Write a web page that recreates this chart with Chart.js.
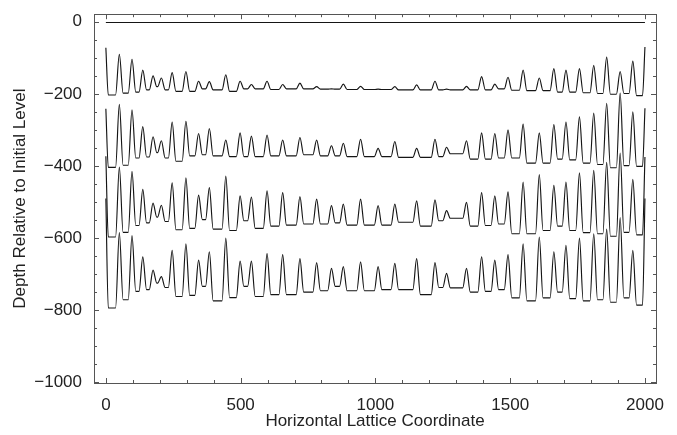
<!DOCTYPE html>
<html>
<head>
<meta charset="utf-8">
<script src="https://cdn.jsdelivr.net/npm/chart.js@4.4.1/dist/chart.umd.min.js"></script>
<style>
html,body{margin:0;padding:0;background:#fff;}
#wrap{width:677px;height:435px;position:relative;}
</style>
</head>
<body>
<div id="wrap"><canvas id="c" width="677" height="435"></canvas></div>
<script>
// ---- data ----
const peakX = [50, 97, 137, 175, 206, 246, 297, 344, 384, 445, 498, 540, 598, 656, 720, 782, 837, 881, 945, 1010, 1072, 1153, 1221, 1264, 1338, 1394, 1443, 1492, 1548, 1608, 1662, 1707, 1757, 1810, 1858, 1908, 1955];

const s0X = [0, 2000];
const s0Y = [-2, -2];

const s1Ends = [-72, -70];
const s1Peaks = [-90, -104, -134, -150, -156, -141, -138, -165, -166, -147, -165, -174, -165, -174, -170, -180, -186, -173, -179, -187, -180, -175, -165, -187, -179, -152, -173, -154, -134, -156, -130, -134, -130, -121, -98, -138, -109];
const s1Valleys = [-203, -198, -195, -189, -180, -189, -193, -193, -186, -189, -193, -186, -186, -188, -186, -186, -187, -187, -188, -188, -188, -189, -189, -189, -189, -189, -189, -186, -190, -191, -191, -195, -195, -197, -199, -201, -199, -205];

const s2Ends = [-241, -240];
const s2Peaks = [-229, -244, -291, -319, -330, -278, -276, -310, -296, -328, -308, -317, -314, -328, -321, -328, -344, -337, -326, -351, -332, -351, -326, -348, -330, -308, -310, -300, -284, -308, -285, -278, -264, -253, -226, -198, -250];
const s2Valleys = [-404, -398, -378, -375, -363, -378, -387, -372, -369, -372, -374, -374, -374, -372, -372, -369, -372, -372, -374, -374, -374, -376, -376, -374, -366, -381, -381, -378, -378, -392, -392, -381, -383, -392, -396, -405, -399, -401];

const s3Ends = [-373, -375];
const s3Peaks = [-403, -415, -465, -503, -509, -447, -433, -481, -460, -428, -483, -486, -469, -474, -485, -492, -510, -506, -492, -510, -506, -497, -494, -524, -501, -474, -483, -472, -445, -424, -454, -445, -419, -412, -390, -364, -437];
const s3Valleys = [-597, -584, -565, -558, -542, -554, -577, -573, -549, -575, -579, -552, -573, -567, -564, -561, -561, -558, -564, -564, -564, -556, -567, -552, -545, -567, -565, -561, -588, -588, -579, -567, -579, -585, -588, -595, -584, -591];

const s4Ends = [-490, -490];
const s4Peaks = [-585, -593, -652, -689, -707, -634, -616, -661, -638, -600, -664, -664, -643, -646, -657, -668, -684, -679, -666, -679, -670, -657, -668, -698, -684, -652, -661, -646, -616, -597, -638, -620, -600, -588, -575, -543, -634];
const s4Valleys = [-794, -771, -748, -743, -725, -737, -762, -759, -734, -774, -765, -734, -762, -757, -757, -750, -746, -734, -746, -746, -743, -743, -757, -737, -738, -750, -748, -743, -766, -774, -766, -750, -768, -774, -771, -778, -766, -786];

const xMajorTicks = [0, 500, 1000, 1500, 2000];
const yMajorTicks = [0, -200, -400, -600, -800, -1000];
const xTitle = 'Horizontal Lattice Coordinate';
const yTitle = 'Depth Relative to Initial Level';

// ---- build the line vertices (peak flanks use a fixed half-width) ----
const HALF = 14;
function buildSeries(ends, peaks, valleys) {
  const pts = [{x: 0, y: ends[0]}, {x: 9, y: valleys[0]}];
  for (let i = 0; i < peakX.length; i++) {
    pts.push({x: peakX[i] - HALF, y: valleys[i]});
    pts.push({x: peakX[i], y: peaks[i]});
    pts.push({x: peakX[i] + HALF, y: valleys[i + 1]});
  }
  pts.push({x: 1991, y: valleys[valleys.length - 1]});
  pts.push({x: 2000, y: ends[1]});
  return pts;
}

const lineStyle = {
  borderColor: '#151515', borderWidth: 1.15, pointRadius: 0, fill: false,
  cubicInterpolationMode: 'monotone'
};

const datasets = [
  Object.assign({data: s0X.map((x, i) => ({x, y: s0Y[i]}))}, lineStyle, {cubicInterpolationMode: 'default', tension: 0}),
  Object.assign({data: buildSeries(s1Ends, s1Peaks, s1Valleys)}, lineStyle),
  Object.assign({data: buildSeries(s2Ends, s2Peaks, s2Valleys)}, lineStyle),
  Object.assign({data: buildSeries(s3Ends, s3Peaks, s3Valleys)}, lineStyle),
  Object.assign({data: buildSeries(s4Ends, s4Peaks, s4Valleys)}, lineStyle)
];

const FONT = {family: '"Liberation Sans", Arial, Helvetica, sans-serif', size: 17};

const frameTicks = {
  id: 'frameTicks',
  afterDatasetsDraw(chart) {
    const {ctx, chartArea: a, scales: {x, y}} = chart;
    ctx.save();
    ctx.strokeStyle = '#555';
    ctx.lineWidth = 1;
    ctx.strokeRect(Math.round(a.left) + 0.5, Math.round(a.top) + 0.5, Math.round(a.right - a.left), Math.round(a.bottom - a.top));
    ctx.beginPath();
    for (let v = 0; v <= 2000; v += 100) {
      const px = Math.round(x.getPixelForValue(v)) + 0.5;
      const len = xMajorTicks.includes(v) ? 5 : 3;
      ctx.moveTo(px, a.bottom); ctx.lineTo(px, a.bottom - len);
      ctx.moveTo(px, a.top); ctx.lineTo(px, a.top + len);
    }
    for (let v = -1000; v <= 0; v += 50) {
      const py = Math.round(y.getPixelForValue(v)) + 0.5;
      const len = yMajorTicks.includes(v) ? 5 : 3;
      ctx.moveTo(a.left, py); ctx.lineTo(a.left + len, py);
      ctx.moveTo(a.right, py); ctx.lineTo(a.right - len, py);
    }
    ctx.stroke();
    ctx.restore();
  }
};

new Chart(document.getElementById('c'), {
  type: 'line',
  data: {datasets},
  options: {
    responsive: false,
    animation: false,
    events: [],
    layout: {padding: {left: 0, right: 21, top: 9, bottom: 0}},
    plugins: {legend: {display: false}, tooltip: {enabled: false}},
    scales: {
      x: {
        type: 'linear', min: -44, max: 2041,
        afterFit(s) { s.height = 52; },
        afterBuildTicks(s) { s.ticks = xMajorTicks.map(v => ({value: v})); },
        grid: {display: false},
        border: {display: false},
        ticks: {font: FONT, color: '#222', padding: 4, maxRotation: 0, autoSkip: false,
                callback: v => String(v)},
        title: {display: true, text: xTitle, font: FONT, color: '#222', padding: {top: 0, bottom: 3}}
      },
      y: {
        type: 'linear', min: -1002, max: 21,
        afterFit(s) { s.width = 94; },
        afterBuildTicks(s) { s.ticks = yMajorTicks.map(v => ({value: v})); },
        grid: {display: false},
        border: {display: false},
        ticks: {font: FONT, color: '#222', padding: 4, autoSkip: false,
                callback: v => (v < 0 ? '\u2212' + Math.abs(v) : String(v))},
        title: {display: true, text: yTitle, font: FONT, color: '#222', padding: {top: 10, bottom: 0}}
      }
    }
  },
  plugins: [frameTicks]
});
</script>
</body>
</html>
